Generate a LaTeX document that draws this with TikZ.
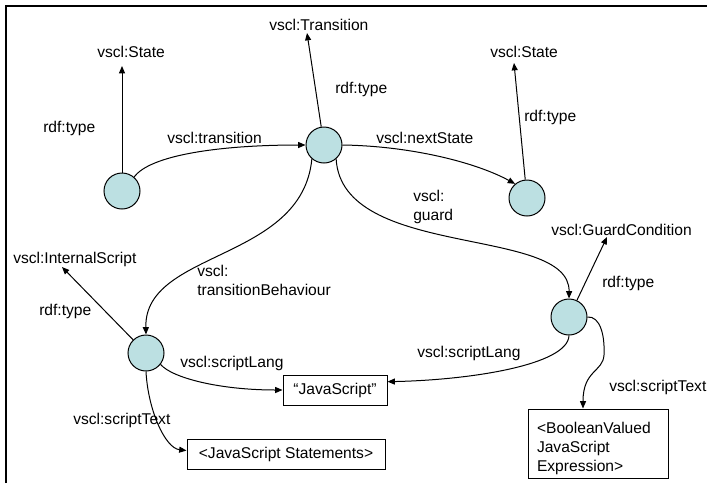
\documentclass[tikz,border=0pt]{standalone}
\usepackage{fontspec}
\setmainfont{Liberation Sans}
\usetikzlibrary{arrows.meta}
\definecolor{nodefill}{RGB}{188,224,226}
\begin{document}
\begin{tikzpicture}[x=0.75pt,y=-0.75pt,
  font=\fontsize{11.7pt}{14pt}\selectfont,
  res/.style={circle,draw,fill=nodefill,line width=0.75pt,minimum size=27pt,inner sep=0pt},
  lit/.style={draw,line width=0.75pt,inner sep=0pt,align=center},
  lbl/.style={inner sep=0pt,anchor=base west},
  arc/.style={line width=0.75pt,-{Triangle[length=5.5pt,width=4.5pt]}},
  frame/.style={line width=1.5pt}]
\useasboundingbox (0,0) rectangle (707,483);

% frame (top and left edges)
\draw[frame] (6,483) -- (6,6) -- (707,6);

% resources
\node[res] (S1) at (122,191) {};
\node[res] (T)  at (324,145) {};
\node[res] (S2) at (527,198) {};
\node[res] (G)  at (569,317) {};
\node[res] (Sc) at (146,353) {};

% literals
\node[lit,minimum width=78pt,minimum height=22.5pt] (JS) at (335,390) {“JavaScript”};
\node[lit,minimum width=148.5pt,minimum height=22.5pt] (JSS) at (286,454) {<JavaScript Statements>};
\node[lit,minimum height=51.75pt,align=left,text width=91.5pt,inner xsep=6.75pt] (BVE) at (598,443.5)
  {\rule{0pt}{16pt}<BooleanValued\\JavaScript\\Expression>};

% class names
\node[lbl] (tyS1) at (97,57)  {vscl:State};
\node[lbl] (tyT)  at (269,30) {vscl:Transition};
\node[lbl] (tyS2) at (490,57) {vscl:State};
\node[lbl] (tyG)  at (551,235) {vscl:GuardCondition};
\node[lbl] (tySc) at (13,263) {vscl:InternalScript};

% property labels
\node[lbl] (rS1) at (43,132)  {rdf:type};
\node[lbl] (rT)  at (335,93)  {rdf:type};
\node[lbl] (rS2) at (524,121) {rdf:type};
\node[lbl] (rG)  at (602,287) {rdf:type};
\node[lbl] (rSc) at (39,315)  {rdf:type};
\node[lbl] (ltr)  at (167,143) {vscl:transition};
\node[lbl] (lns)  at (376,143) {vscl:nextState};
\node[lbl,anchor=north west,align=left] (lgd) at (413,190.3) {vscl:\\guard};
\node[lbl,anchor=north west,align=left] (ltb) at (197,265.3) {vscl:\\transitionBehaviour};
\node[lbl] (lslR) at (417,357) {vscl:scriptLang};
\node[lbl] (lstR) at (609,391) {vscl:scriptText};
\node[lbl] (lslL) at (180,367) {vscl:scriptLang};
\node[lbl] (lstL) at (73,424)  {vscl:scriptText};

% arrow tips under the class names
\coordinate (pS1) at (122,66);
\coordinate (pT)  at (307,33);
\coordinate (pS2) at (514,63);
\coordinate (pSc) at (62,267);
\coordinate (pG)  at (607,237);

% rdf:type edges
\draw[arc] (S1) -- (pS1);
\draw[arc] (T)  -- (pT);
\draw[arc] (S2) -- (pS2);
\draw[arc] (Sc) -- (pSc);
\draw[arc] (G)  -- (pG);

% property edges
\draw[arc] (S1.49) .. controls (150,155) and (220,145) .. (T.west);
\draw[arc] (T.east) .. controls (410,146) and (475,162) .. (S2.130);
\draw[arc] (T.-49) .. controls (342,260) and (570,225) .. (G.north);
\draw[arc] (T.-131) .. controls (302,262) and (144,250) .. (Sc.north);
\draw[arc] (Sc.-38) .. controls (172,378) and (220,390) .. (JS.west);
\draw[arc] (G.south) .. controls (568,365) and (470,380) .. (JS.9);
\draw[arc] (Sc.south) .. controls (148,410) and (165,448) .. (JSS.178);
\draw[arc] (G.east) .. controls (600,316) and (605,335) .. (604,355)
  .. controls (603,372) and (583,370) .. ([xshift=-11.25pt]BVE.north);
\end{tikzpicture}
\end{document}
